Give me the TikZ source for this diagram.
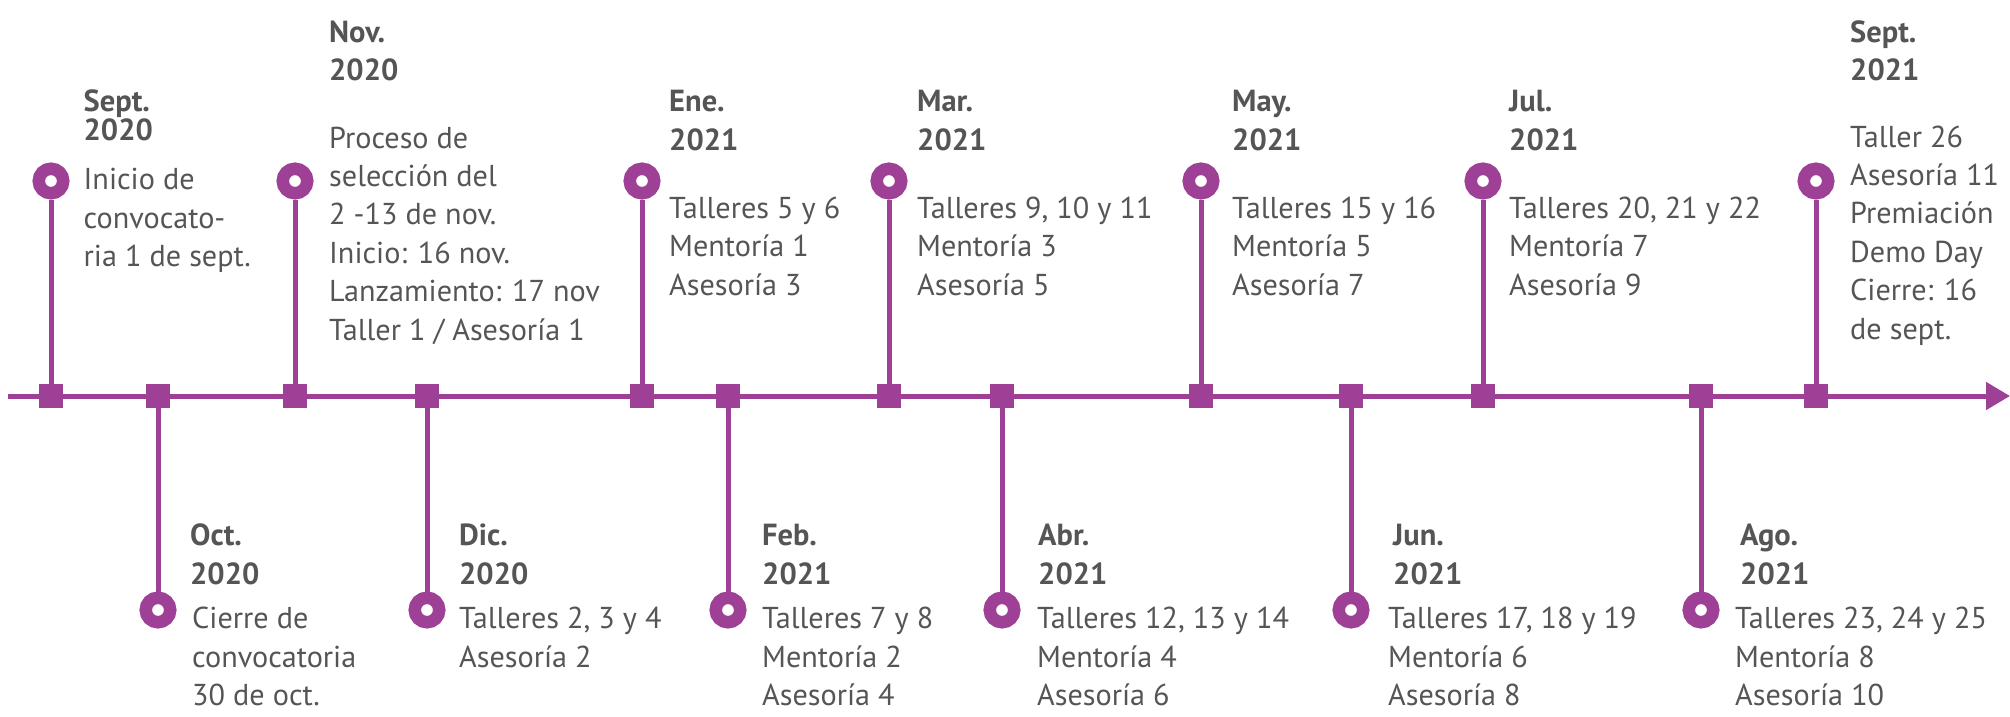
\documentclass[tikz,border=0pt]{standalone}
\usepackage{fontspec}
\setmainfont{PT Sans}
\usetikzlibrary{arrows.meta}
\definecolor{tlpurple}{HTML}{9E4196}
\definecolor{tlgray}{HTML}{555555}
\begin{document}
\begin{tikzpicture}[x=1pt,y=-1pt,
  tick/.style={rectangle, fill=tlpurple, minimum size=24pt, inner sep=0pt},
  dot/.style={circle, draw=tlpurple, line width=12.5pt, fill=white, minimum size=24.5pt, inner sep=0pt},
  stem/.style={tlpurple, line width=5pt},
  axis/.style={tlpurple, line width=5pt, -{Triangle[length=24pt,width=27pt]}},
  hd/.style={font=\fontsize{30.5}{38.5}\selectfont\bfseries, text=tlgray, anchor=base west, align=left, inner sep=0pt},
  bd/.style={font=\fontsize{30.2}{38.4}\selectfont, text=tlgray, anchor=base west, align=left, inner sep=0pt}]
\useasboundingbox (0,0) rectangle (2010,716);

% axis
\coordinate (start) at (8,396);
\coordinate (end) at (2010,396);
\draw[axis] (start) -- (end);

% ticks
\foreach \n/\x in {a/51,b/158,c/295,d/427,e/642,f/728,g/889,h/1002,i/1201,j/1351,k/1483,l/1701,m/1816}
  \node[tick] (t\n) at (\x,396) {};

% upper circles
\foreach \n/\x in {a/51,c/295,e/642,g/889,i/1201,k/1483,m/1816}
  \node[dot] (c\n) at (\x,181) {};
% lower circles
\foreach \n/\x in {b/158,d/427,f/728,h/1002,j/1351,l/1701}
  \node[dot] (c\n) at (\x,610) {};

% stems
\foreach \n in {a,b,c,d,e,f,g,h,i,j,k,l,m}
  \draw[stem] (t\n) -- (c\n);

% upper labels (anchor = baseline of last line)
\node[hd] (ha) at (83.5,140.7) {Sept.\\[-9.5pt]2020};
\node[bd] (ba) at (83.5,266.7) {Inicio de\\convocato-\\ria 1 de sept.};

\node[hd] (hc) at (329,80.7) {Nov.\\2020};
\node[bd] (bc) at (329,340) {Proceso de\\selección del\\2 -13 de nov.\\Inicio: 16 nov.\\Lanzamiento: 17 nov\\Taller 1 / Asesoría 1};

\node[hd] (he) at (669,150) {Ene.\\2021};
\node[bd] (be) at (669,295) {Talleres 5 y 6\\Mentoría 1\\Asesoría 3};

\node[hd] (hg) at (917,150) {Mar.\\2021};
\node[bd] (bg) at (917,295) {Talleres 9, 10 y 11\\Mentoría 3\\Asesoría 5};

\node[hd] (hi) at (1232,150) {May.\\2021};
\node[bd] (bi) at (1232,295) {Talleres 15 y 16\\Mentoría 5\\Asesoría 7};

\node[hd] (hk) at (1509,150) {Jul.\\2021};
\node[bd] (bk) at (1509,295) {Talleres 20, 21 y 22\\Mentoría 7\\Asesoría 9};

\node[hd] (hm) at (1850,80.7) {Sept.\\2021};
\node[bd] (bm) at (1850,339) {Taller 26\\Asesoría 11\\Premiación\\Demo Day\\Cierre: 16\\de sept.};

% lower labels
\node[hd] (hb) at (190,584) {Oct.\\2020};
\node[bd] (bb) at (192,705.7) {Cierre de\\convocatoria\\30 de oct.};

\node[hd] (hd) at (459,584) {Dic.\\2020};
\node[bd] (bd) at (459,667.3) {Talleres 2, 3 y 4\\Asesoría 2};

\node[hd] (hf) at (762,584) {Feb.\\2021};
\node[bd] (bf) at (762,705.7) {Talleres 7 y 8\\Mentoría 2\\Asesoría 4};

\node[hd] (hh) at (1038,584) {Abr.\\2021};
\node[bd] (bh) at (1037,705.7) {Talleres 12, 13 y 14\\Mentoría 4\\Asesoría 6};

\node[hd] (hj) at (1393,584) {Jun.\\2021};
\node[bd] (bj) at (1388,705.7) {Talleres 17, 18 y 19\\Mentoría 6\\Asesoría 8};

\node[hd] (hl) at (1740,584) {Ago.\\2021};
\node[bd] (bl) at (1735,705.7) {Talleres 23, 24 y 25\\Mentoría 8\\Asesoría 10};
\end{tikzpicture}
\end{document}
